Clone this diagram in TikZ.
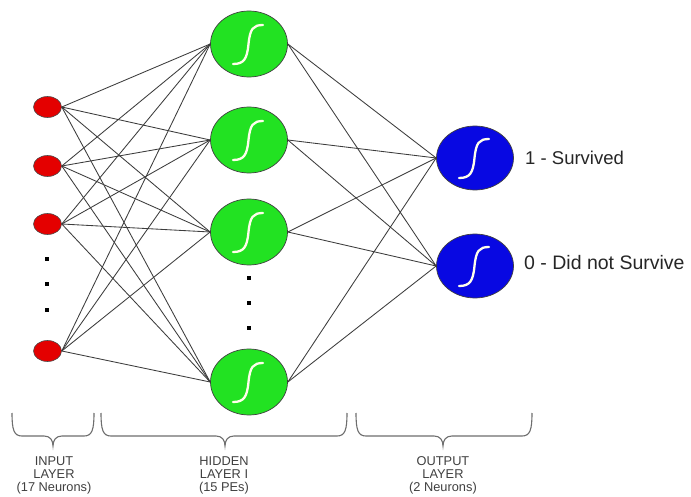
\documentclass[tikz,border=0pt]{standalone}
\usepackage{fontspec}
\setmainfont{Liberation Sans}
\usetikzlibrary{shapes.geometric}
\definecolor{ngreen}{RGB}{34,226,34}
\definecolor{nred}{RGB}{228,0,0}
\definecolor{nblue}{RGB}{8,8,226}
\definecolor{edgegray}{RGB}{60,60,60}
\definecolor{bracegray}{RGB}{110,110,110}
\begin{document}
\begin{tikzpicture}[x=1pt,y=-1pt,
  innode/.style={ellipse,draw=black!70,line width=0.6pt,fill=nred,minimum width=28pt,minimum height=21pt,inner sep=0pt},
  hidnode/.style={ellipse,draw=black!75,line width=0.7pt,fill=ngreen,minimum width=77pt,minimum height=66pt,inner sep=0pt},
  outnode/.style={ellipse,draw=black!75,line width=0.7pt,fill=nblue,minimum width=77pt,minimum height=64pt,inner sep=0pt},
  dotsq/.style={rectangle,fill=black,minimum size=4.5pt,inner sep=0pt},
  edge/.style={draw=edgegray,line width=0.85pt},
  bracestyle/.style={draw=bracegray,line width=1.1pt},
  siglab/.style={font=\fontsize{18.5}{22}\selectfont,text=black!85,anchor=base west,inner sep=0pt},
  laylab/.style={font=\fontsize{12.8}{13.2}\selectfont,text=black!75,align=center,anchor=north,inner sep=0pt},
  pics/sigm/.style={code={\draw[line width=2.3pt,draw=white!92!yellow,line cap=round]
     (-16,20) .. controls (-5,20) and (-2,15) .. (-0.5,0) .. controls (1,-15) and (4,-19) .. (14,-19);}}
]
\useasboundingbox (0,0) rectangle (691,497);
\fill[white] (0,0) rectangle (691,497);

% input layer
\node[innode] (i1) at (47.5,107) {};
\node[innode] (i2) at (47.5,166) {};
\node[innode] (i3) at (47.5,224) {};
\node[innode] (i4) at (47.5,351) {};
\node[dotsq] (di1) at (47,259) {};
\node[dotsq] (di2) at (47,284) {};
\node[dotsq] (di3) at (47,310) {};

% hidden layer
\node[hidnode] (h1) at (249,44) {};
\node[hidnode] (h2) at (249,140) {};
\node[hidnode] (h3) at (249,232) {};
\node[hidnode] (h4) at (249,382) {};
\node[dotsq] (dh1) at (249,278) {};
\node[dotsq] (dh2) at (249,303) {};
\node[dotsq] (dh3) at (249,328) {};

% output layer
\node[outnode] (o1) at (475,158) {};
\node[outnode] (o2) at (475,266) {};

% connections
\foreach \i in {1,...,4}{
  \foreach \j in {1,...,4}{
    \draw[edge] (i\i.east) -- (h\j.west);
  }
}
\foreach \j in {1,...,4}{
  \foreach \k in {1,2}{
    \draw[edge] (h\j.east) -- (o\k.west);
  }
}

% sigmoid symbols
\foreach \n in {h1,h2,h3,h4,o1,o2}{
  \pic at (\n) {sigm};
}

% output labels
\node[siglab] (l1) at (525,164.5) {1 - Survived};
\node[siglab,font=\fontsize{19.5}{22}\selectfont] (l0) at (524,269.5) {0 - Did not Survive};

% braces
\draw[bracestyle] (12,413) .. controls (12,430) and (14,436) .. (22,436) -- (44,436)
  .. controls (50,436) and (53,440) .. (53,446) .. controls (53,440) and (56,436) .. (62,436)
  -- (84,436) .. controls (92,436) and (94,430) .. (94,413);
\draw[bracestyle] (101,413) .. controls (101,430) and (103,436) .. (111,436) -- (216,436)
  .. controls (222,436) and (225,440) .. (225,446) .. controls (225,440) and (228,436) .. (234,436)
  -- (337,436) .. controls (345,436) and (347,430) .. (347,413);
\draw[bracestyle] (356,413) .. controls (356,430) and (358,436) .. (366,436) -- (434,436)
  .. controls (440,436) and (443,440) .. (443,446) .. controls (443,440) and (446,436) .. (452,436)
  -- (522,436) .. controls (530,436) and (532,430) .. (532,413);

% layer labels
\node[laylab] (tin) at (54,456) {INPUT\\LAYER\\(17 Neurons)};
\node[laylab] (thid) at (224,456) {HIDDEN\\LAYER I\\(15 PEs)};
\node[laylab] (tout) at (443,456) {OUTPUT\\LAYER\\(2 Neurons)};
\end{tikzpicture}
\end{document}
